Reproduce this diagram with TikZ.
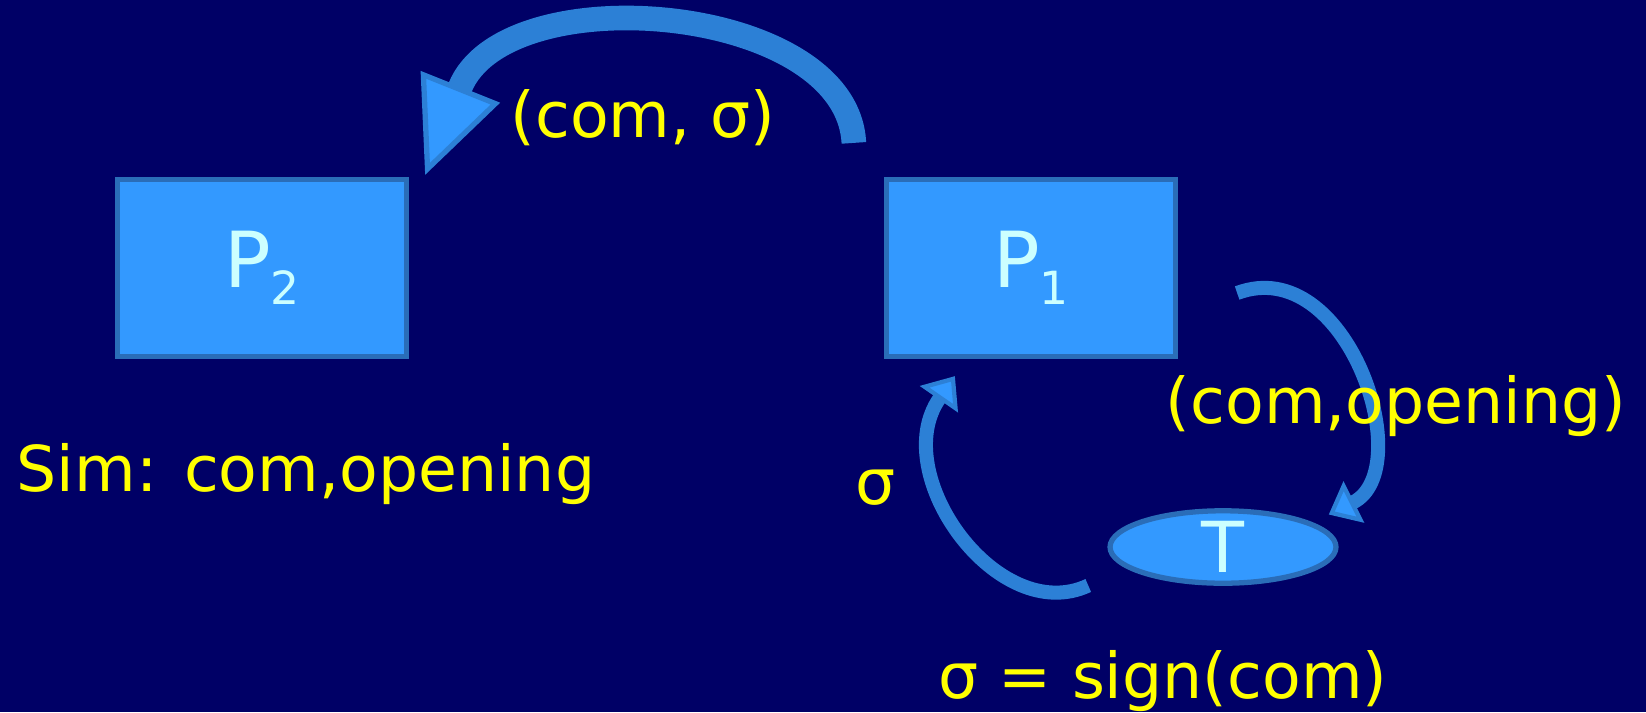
\documentclass[tikz,border=0pt]{standalone}
\usepackage{fontspec}
\setmainfont{DejaVu Sans}
\usetikzlibrary{arrows.meta,shapes.geometric}

\definecolor{slidebg}{HTML}{000066}
\definecolor{boxfill}{HTML}{3399FF}
\definecolor{boxedge}{HTML}{2A6DB8}
\definecolor{arrowfill}{HTML}{2C80D6}
\definecolor{msgyellow}{HTML}{FFFF00}
\definecolor{boxtext}{HTML}{CCFFFF}

\newcommand{\partylbl}[1]{P\raisebox{-5pt}{\fontsize{13}{13}\selectfont #1}}

\begin{document}
\begin{tikzpicture}[
  party/.style={draw=boxedge, fill=boxfill, line width=1.5pt,
                minimum width=2.89cm, minimum height=1.77cm,
                text=boxtext, font=\fontsize{22}{24}\selectfont},
  oracle/.style={ellipse, draw=boxedge, fill=boxfill, line width=1.5pt,
                 minimum width=2.26cm, minimum height=0.63cm, inner sep=0pt,
                 text=boxtext, font=\fontsize{20}{20}\selectfont},
  msg/.style={text=msgyellow, font=\fontsize{18}{22}\selectfont, inner sep=0pt},
  bigflow/.style={draw=arrowfill, line width=7pt,
                  -{Triangle[length=27pt,width=24pt,fill=boxfill,line width=1.5pt]}},
  smallflow/.style={draw=arrowfill, line width=4pt,
                    -{Triangle[length=8pt,width=13pt,fill=boxfill,line width=1.2pt]}},
]
\fill[slidebg] (0,0) rectangle (16.46,7.12);
\useasboundingbox (0,0) rectangle (16.46,7.12);

% parties and the signing oracle
\node[party] (P2) at (2.62,4.44) {\partylbl{2}};
\node[party] (P1) at (10.31,4.44) {\partylbl{1}};
\node[oracle] (T) at (12.23,1.65) {T};

% messages
\draw[bigflow] ([xshift=-3mm,yshift=3.4mm]P1.north west)
  .. controls +(-0.07,1.4) and +(0.8,2.0) .. ([xshift=1.6mm,yshift=0.2mm]P2.north east);
\draw[smallflow] ([xshift=5.9mm,yshift=-2.5mm]P1.east)
  .. controls +(1.1,0.41) and +(0.9,0.45) .. ([xshift=2.4mm,yshift=0.5mm]T.north east);
\draw[smallflow] ([xshift=-5.3mm,yshift=-1.1mm]T.south west)
  .. controls +(-0.9,-0.42) and +(-0.68,-0.98) .. ([xshift=7.1mm,yshift=-1.7mm]P1.south west);

\node[msg, anchor=base] (comsig) at (6.43,5.75) {(com, σ)};
\node[msg, anchor=base west] (simtext) at (0.16,2.21) {Sim: com,opening};
\node[msg, anchor=base] (sigback) at (8.76,2.08) {σ};
\node[msg, anchor=base] (comopen) at (13.96,2.89) {(com,opening)};
\node[msg, anchor=base] (signdef) at (11.63,0.14) {σ = sign(com)};
\end{tikzpicture}
\end{document}
